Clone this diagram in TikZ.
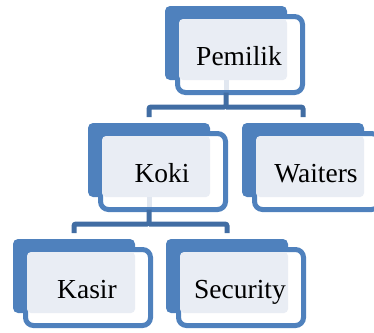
\documentclass[tikz,border=0pt]{standalone}
\usepackage{fontspec}
\setmainfont{Liberation Serif}
\definecolor{accent}{HTML}{4F81BD}
\definecolor{connblue}{HTML}{416DA3}
\definecolor{lightfill}{HTML}{E9EDF4}
\definecolor{lightconn}{HTML}{E1E7F0}
\tikzset{
  bluebox/.style={fill=accent, rounded corners=5pt, minimum width=122pt, minimum height=74pt, inner sep=0pt, outer sep=0pt},
  outbox/.style={draw=accent, line width=5pt, fill=white, rounded corners=8pt, minimum width=125pt, minimum height=76pt, inner sep=0pt, outer sep=0pt},
  lightbox/.style={fill=lightfill, rounded corners=4pt, minimum width=108pt, minimum height=61pt, inner sep=0pt, outer sep=0pt},
  lbl/.style={inner sep=0pt, text=black, font=\fontsize{27.5}{33}\selectfont},
  conn/.style={draw=connblue, line width=5pt, rounded corners=2pt},
  connlight/.style={draw=lightconn, line width=5pt}
}
\newcommand\orgbox[4]{%
  \node[bluebox, anchor=north west] (#1-b) at (#2,#3) {};
  \node[outbox, anchor=north west] (#1-o) at ({#2+12.5},{#3+10.5}) {};
  \node[lightbox, anchor=north west] (#1) at ({#2+14},{#3+13}) {};
  \node[lbl, anchor=base] (#1-t) at ({#2+74},{#3+59.5}) {#4};
}
\begin{document}
\begin{tikzpicture}[x=1pt,y=-1pt]
\useasboundingbox (0,0) rectangle (374,332);
\clip (0,0) rectangle (374,332);
\orgbox{pem}{165}{6}{Pemilik}
\orgbox{koki}{88}{123}{Koki}
\orgbox{wait}{242}{123}{Waiters}
\orgbox{kasir}{13}{239}{Kasir}
\orgbox{sec}{166}{239}{Security}
\coordinate (bar1) at (226,107);
\coordinate (bar2) at (149,224);
% light parts of connectors inside the boxes
\draw[connlight] (pem.south -| pem-b.south) -- ([yshift=2.5pt]pem-o.south -| pem-b.south);
\draw[connlight] (koki.south -| koki-b.south) -- ([yshift=2.5pt]koki-o.south -| koki-b.south);
% connectors
\draw[conn] (pem-b.south |- pem-o.south) -- (pem-b.south |- bar1) -| ([yshift=6pt]koki-b.north);
\draw[conn] (pem-b.south |- bar1) -| ([yshift=6pt]wait-b.north);
\draw[conn] (koki-b.south |- koki-o.south) -- (koki-b.south |- bar2) -| ([yshift=6pt]kasir-b.north);
\draw[conn] (koki-b.south |- bar2) -| ([yshift=6pt]sec-b.north);
\end{tikzpicture}
\end{document}
